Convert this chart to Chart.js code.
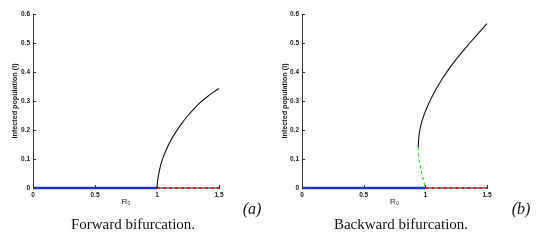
<!DOCTYPE html>
<html>
<head>
<meta charset="utf-8">
<script src="https://cdn.jsdelivr.net/npm/chart.js@4"></script>
<style>
  body{margin:0;background:#fff;width:541px;height:244px;position:relative;overflow:hidden;}
  canvas{position:absolute;top:0;}
  .cap{position:absolute;font-family:"Liberation Serif","Times New Roman",serif;font-size:15px;color:#111;transform:translate(-50%,-50%);white-space:nowrap;}
  .tag{position:absolute;font-family:"Liberation Serif","Times New Roman",serif;font-style:italic;font-size:16px;color:#111;transform:translate(-50%,-50%);}
</style>
</head>
<body>
<canvas id="chartA" width="270" height="210" style="left:0"></canvas>
<canvas id="chartB" width="271" height="210" style="left:270px"></canvas>
<div class="tag" style="left:252px;top:209px">(a)</div>
<div class="tag" style="left:521px;top:209px">(b)</div>
<div class="cap" style="left:133px;top:224px">Forward bifurcation.</div>
<div class="cap" style="left:401px;top:224px">Backward bifurcation.</div>
<script>
// --- Data ---
const xTicks=[0,0.5,1,1.5];
const yTicks=[0,0.1,0.2,0.3,0.4,0.5,0.6];
const xLabel='R₀';
const yLabel='Infected population (I)';

// disease-free equilibrium (both panels)
const dfeStableX=[0,1],   dfeStableY=[0,0];
const dfeUnstableX=[1,1.5], dfeUnstableY=[0,0];

// (a) forward bifurcation, endemic branch
const fwdX=[1,1.005,1.015,1.03,1.05,1.075,1.1,1.13,1.16,1.2,1.25,1.3,1.35,1.4,1.45,1.5];
const fwdY=[0,0.025,0.05,0.08,0.106,0.132,0.155,0.178,0.198,0.223,0.25,0.274,0.295,0.313,0.329,0.343];

// (b) backward bifurcation, stable and unstable endemic branches
const bwdStableX=[0.942,0.9465,0.9555,0.972,0.996,1.026,1.0605,1.0995,1.143,1.191,1.2435,1.3005,1.3605,1.422,1.485,1.5];
const bwdStableY=[0.14,0.17,0.2,0.23,0.26,0.29,0.32,0.35,0.38,0.41,0.44,0.47,0.5,0.53,0.56,0.567];
const bwdUnstableX=[0.942,0.9455,0.958,0.977,0.993,1];
const bwdUnstableY=[0.14,0.11,0.075,0.04,0.012,0];

const pts=(xs,ys)=>xs.map((x,i)=>({x,y:ys[i]}));

// --- inward tick marks ---
const innerTicks={
  id:'innerTicks',
  afterDraw(chart){
    const {ctx,scales:{x,y}}=chart;
    ctx.save();
    ctx.strokeStyle='#333'; ctx.lineWidth=1;
    ctx.beginPath();
    xTicks.forEach(v=>{const px=Math.round(x.getPixelForValue(v))+0.5; ctx.moveTo(px,y.bottom); ctx.lineTo(px,y.bottom-3);});
    yTicks.forEach(v=>{const py=Math.round(y.getPixelForValue(v))+0.5; ctx.moveTo(x.left,py); ctx.lineTo(x.left+3,py);});
    ctx.stroke();
    ctx.restore();
  }
};

function line(data,color,width,dash,order){
  return {data,borderColor:color,borderWidth:width,borderDash:dash||[],showLine:true,pointRadius:0,
    tension:0.4,clip:6,order};
}

function makeChart(id,axisWidth,rightPad,datasets){
  return new Chart(document.getElementById(id),{
    type:'scatter',
    data:{datasets},
    plugins:[innerTicks],
    options:{
      responsive:false,animation:false,devicePixelRatio:1,
      layout:{padding:{top:14,right:rightPad,left:0,bottom:0}},
      plugins:{legend:{display:false},tooltip:{enabled:false}},
      scales:{
        x:{type:'linear',min:0,max:1.5,
          afterBuildTicks:s=>{s.ticks=xTicks.map(v=>({value:v}));},
          afterFit:s=>{s.height=22;},
          grid:{display:false,drawTicks:false},
          border:{display:true,color:'#333',width:1},
          ticks:{padding:3,color:'#1a1a1a',font:{family:'Liberation Sans',size:6.5,weight:'bold'},callback:v=>String(v)},
          title:{display:true,text:xLabel,color:'#222',font:{family:'Liberation Sans',size:8},padding:{top:0,bottom:3}}},
        y:{type:'linear',min:0,max:0.6,
          afterBuildTicks:s=>{s.ticks=yTicks.map(v=>({value:v}));},
          afterFit:s=>{s.width=axisWidth;},
          grid:{display:false,drawTicks:false},
          border:{display:true,color:'#333',width:1},
          ticks:{padding:3,color:'#1a1a1a',font:{family:'Liberation Sans',size:6.5,weight:'bold'},callback:v=>String(v)},
          title:{display:true,text:yLabel,color:'#1a1a1a',font:{family:'Liberation Sans',size:7.2,weight:'bold'},padding:{top:11,bottom:0}}}
      }
    }
  });
}

makeChart('chartA',33,51,[
  line(pts(dfeStableX,dfeStableY),'#2233cc',2.5,null,3),
  line(pts(dfeUnstableX,dfeUnstableY),'#e02424',2,[3,3],1),
  line(pts(dfeUnstableX,dfeUnstableY),'#8a8a8a',2,null,2),
  line(pts(fwdX,fwdY),'#111',1.1,null,0)
]);

makeChart('chartB',32,54,[
  line(pts(dfeStableX,dfeStableY),'#2233cc',2.5,null,3),
  line(pts(dfeUnstableX,dfeUnstableY),'#e02424',2,[3,3],1),
  line(pts(dfeUnstableX,dfeUnstableY),'#8a8a8a',2,null,2),
  line(pts(bwdStableX,bwdStableY),'#111',1.1,null,0),
  line(pts(bwdUnstableX,bwdUnstableY),'#22dd22',1.2,[3,3],0)
]);
</script>
</body>
</html>
